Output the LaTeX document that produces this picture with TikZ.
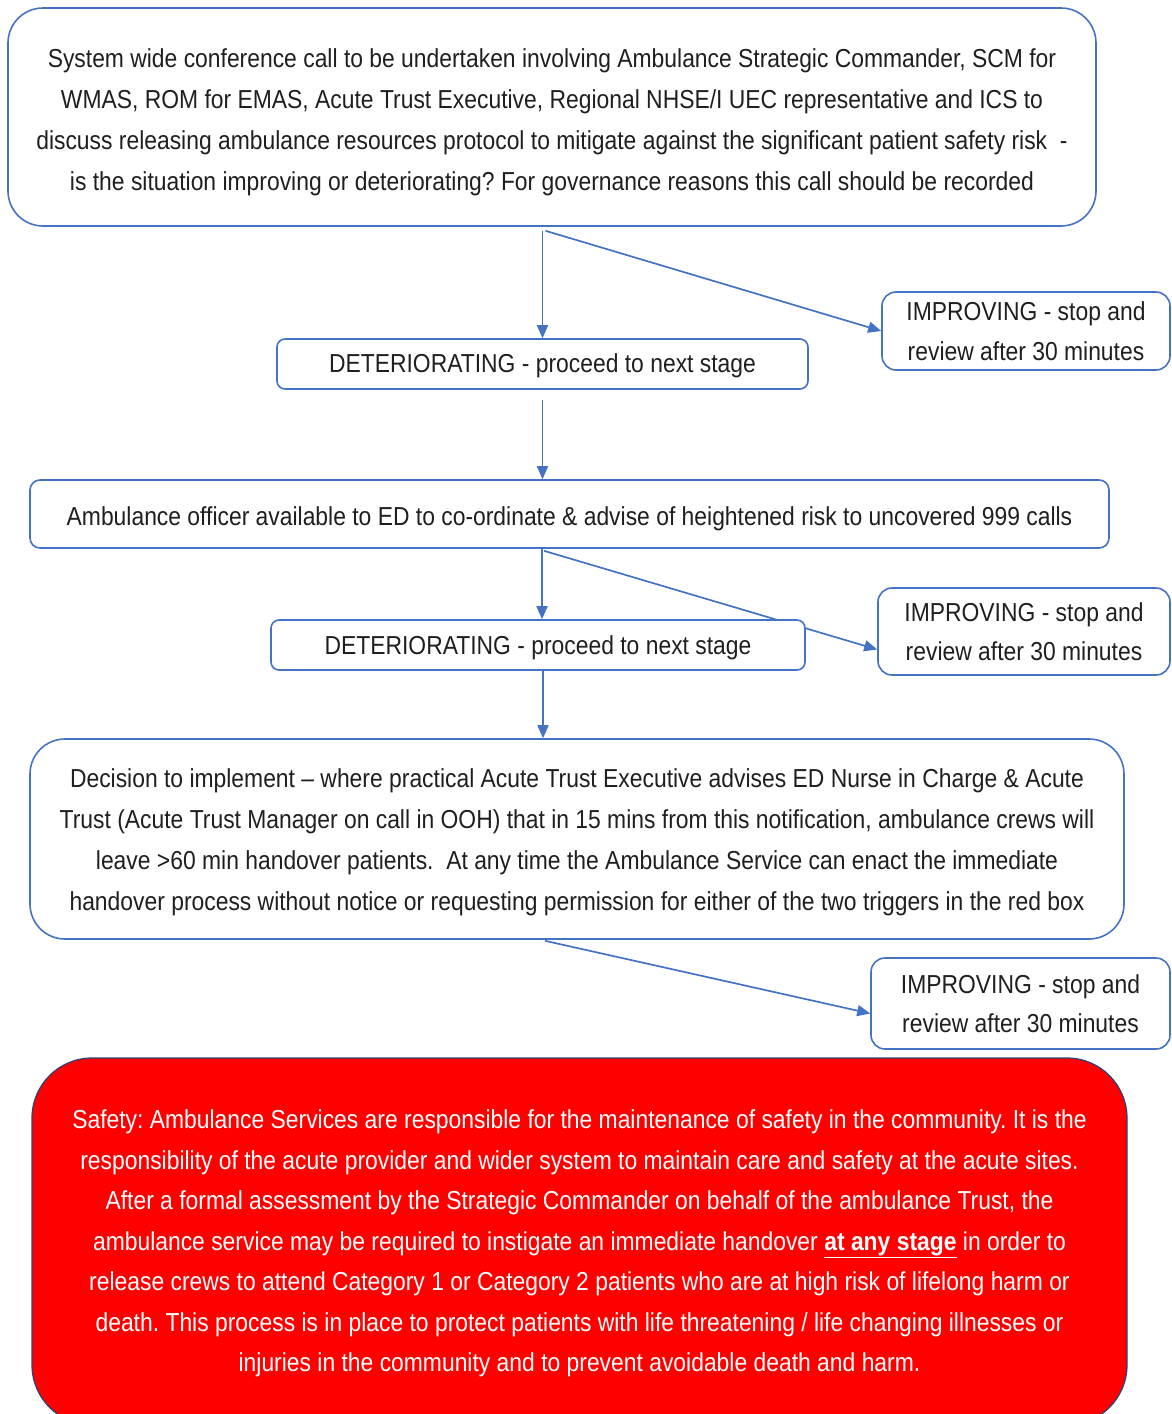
\documentclass[tikz,border=0pt]{standalone}
\usepackage{fontspec}
\setmainfont[FakeStretch=0.88]{Liberation Sans}
\usetikzlibrary{arrows.meta,calc}
\definecolor{bl}{HTML}{4472C4}
\definecolor{txt}{HTML}{1F1F1F}
\definecolor{redfill}{HTML}{FF0000}
\pgfdeclarelayer{background}
\pgfsetlayers{background,main}
\newcommand\liftstrut[1]{\rule{0pt}{#1pt}}
\frenchspacing
\begin{document}
\begin{tikzpicture}[x=1pt,y=-1pt,
  box/.style={draw=bl, line width=1.6pt, fill=white, align=center, inner sep=0pt, text=txt, font=\fontsize{26}{41}\selectfont},
  impbox/.style={box, rounded corners=14pt, font=\fontsize{26}{39.5}\selectfont},
  conn/.style={draw=bl, line width=1.7pt, -{Triangle[length=13pt,width=11pt]}},
  redbox/.style={draw=bl!60!black, line width=1.2pt, fill=redfill, align=center, inner sep=0pt, text=white, rounded corners=60pt, font=\fontsize{26}{40.5}\selectfont}
]
\path[use as bounding box] (0,0) rectangle (1172,1414);
\clip (0,0) rectangle (1172,1414);

\node[box, rounded corners=35pt, minimum width=1088pt, minimum height=218pt] (top) at (552,117)
 {\liftstrut{29}System wide conference call to be undertaken involving Ambulance Strategic Commander, SCM for\\
  WMAS, ROM for EMAS, Acute Trust Executive, Regional NHSE/I UEC representative and ICS to\\
  discuss releasing ambulance resources protocol to mitigate against the significant patient safety risk~~-\\
  is the situation improving or deteriorating? For governance reasons this call should be recorded};

\node[box, rounded corners=8pt, minimum width=531pt, minimum height=50pt] (det1) at (542.5,364)
 {\liftstrut{23}DETERIORATING - proceed to next stage};

\node[impbox, minimum width=288pt, minimum height=78pt] (imp1) at (1026,331)
 {IMPROVING - stop and\\review after 30 minutes};

\node[box, rounded corners=10pt, minimum width=1079pt, minimum height=68pt] (amb) at (569.5,514)
 {\liftstrut{29}Ambulance officer available to ED to co-ordinate \& advise of heightened risk to uncovered 999 calls};

\node[box, rounded corners=8pt, minimum width=534pt, minimum height=50pt] (det2) at (538,645)
 {\liftstrut{25}DETERIORATING - proceed to next stage};

\node[impbox, minimum width=292pt, minimum height=87pt] (imp2) at (1024,631.5)
 {IMPROVING - stop and\\review after 30 minutes};

\node[box, rounded corners=35pt, minimum width=1094pt, minimum height=200pt] (dec) at (577,839)
 {\liftstrut{25}Decision to implement -- where practical Acute Trust Executive advises ED Nurse in Charge \& Acute\\
  Trust (Acute Trust Manager on call in OOH) that in 15 mins from this notification, ambulance crews will\\
  leave >60 min handover patients.~~At any time the Ambulance Service can enact the immediate\\
  handover process without notice or requesting permission for either of the two triggers in the red box};

\node[impbox, minimum width=299pt, minimum height=91pt] (imp3) at (1020.5,1003.5)
 {IMPROVING - stop and\\review after 30 minutes};

\node[redbox, minimum width=1095pt, minimum height=367pt] (safety) at (579.5,1241.5)
 {\liftstrut{23}Safety: Ambulance Services are responsible for the maintenance of safety in the community. It is the\\
  responsibility of the acute provider and wider system to maintain care and safety at the acute sites.\\
  After a formal assessment by the Strategic Commander on behalf of the ambulance Trust, the\\
  ambulance service may be required to instigate an immediate handover \underline{\textbf{at any stage}} in order to\\
  release crews to attend Category 1 or Category 2 patients who are at high risk of lifelong harm or\\
  death. This process is in place to protect patients with life threatening / life changing illnesses or\\
  injuries in the community and to prevent avoidable death and harm.};

\begin{pgfonlayer}{background}
\draw[conn] ($(top.south -| det1.north)+(0,4)$) -- (det1.north);
\draw[conn] ($(top.south -| det1.north)+(3,4)$) -- (imp1.west);
\draw[conn, shorten <=10pt] (det1.south) -- (det1.south |- amb.north);
\draw[conn] ($(amb.south -| det2.north)+(4,0)$) -- ($(det2.north)+(4,0)$);
\draw[conn] ($(amb.south -| det2.north)+(6,2)$) -- ([yshift=-18pt]imp2.west);
\draw[conn] ($(det2.south)+(5,0)$) -- ($(det2.south |- dec.north)+(5,0)$);
\draw[conn] ($(dec.south)+(-32,1)$) -- ([yshift=-10pt]imp3.west);
\end{pgfonlayer}
\end{tikzpicture}
\end{document}
